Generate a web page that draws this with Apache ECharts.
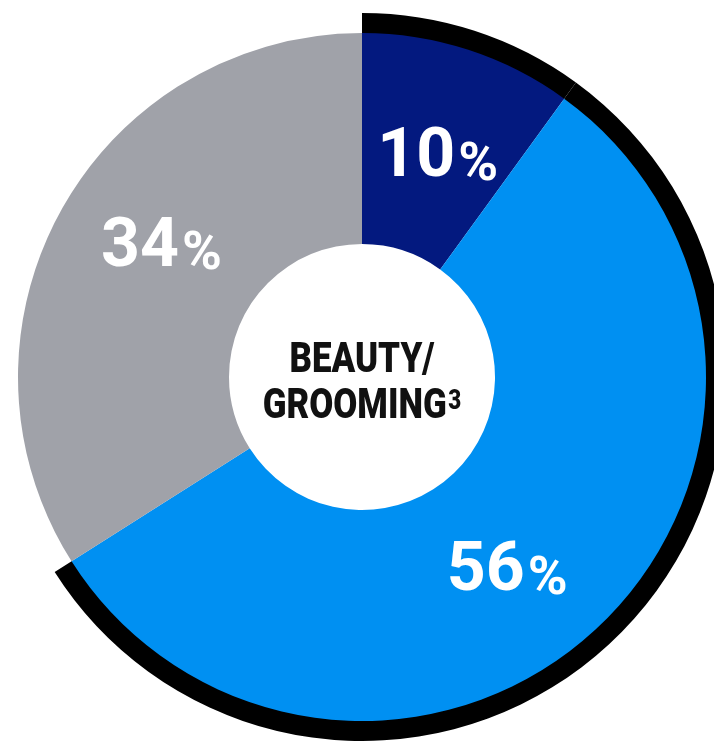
<!DOCTYPE html>
<html>
<head>
<meta charset="utf-8">
<title>Beauty/Grooming</title>
<script src="https://cdn.jsdelivr.net/npm/echarts@6/dist/echarts.min.js"></script>
<style>
    html, body { margin: 0; padding: 0; background: #fff; }
    #chart { width: 714px; height: 741px; }
</style>
</head>
<body>
<div id="chart"></div>
<script>
// slice data, clockwise from 12 o'clock
var sliceNames = ['Segment A', 'Segment B', 'Segment C'];
var sliceValues = [10, 56, 34];
var sliceColors = ['#03197f', '#0090f2', '#a0a2a9'];
// which slices get the black outer band
var bandColors = ['#000000', '#000000', 'rgba(0,0,0,0)'];
// small nudges so labels sit where the original has them
var labelNudge = [[1, 12], [-20, 20], [11, -12]];

var chart = echarts.init(document.getElementById('chart'));

var option = {
    animation: false,
    backgroundColor: '#ffffff',
    series: [
        {
            name: 'band',
            type: 'pie',
            silent: true,
            center: [362, 377],
            radius: [343, 364],
            startAngle: 90,
            label: { show: false },
            labelLine: { show: false },
            itemStyle: { borderWidth: 0 },
            data: sliceValues.map(function(v, i) {
                return { value: v, name: sliceNames[i], itemStyle: { color: bandColors[i] } };
            })
        },
        {
            name: 'share',
            type: 'pie',
            silent: true,
            center: [362, 377],
            radius: [133, 344],
            startAngle: 90,
            itemStyle: { borderWidth: 0 },
            labelLine: { show: false },
            label: {
                show: true,
                position: 'inside',
                formatter: function(p) {
                    return '{n|' + p.value + '}{p|%}';
                },
                rich: {
                    n: {
                        fontFamily: 'Roboto',
                        fontWeight: 'bold',
                        fontSize: 68,
                        color: '#fff',
                        lineHeight: 68,
                        verticalAlign: 'bottom'
                    },
                    p: {
                        fontFamily: 'Roboto',
                        fontWeight: 'bold',
                        fontSize: 54,
                        color: '#fff',
                        lineHeight: 54,
                        padding: [0, 0, 0, 3],
                        verticalAlign: 'bottom'
                    }
                }
            },
            labelLayout: function(params) {
                var n = labelNudge[params.dataIndex];
                return { dx: n[0], dy: n[1] };
            },
            data: sliceValues.map(function(v, i) {
                return { value: v, name: sliceNames[i], itemStyle: { color: sliceColors[i] } };
            })
        }
    ],
    graphic: [
        {
            type: 'text',
            x: 362,
            y: 384,
            scaleX: 0.83,
            silent: true,
            style: {
                text: '{a|BEAUTY/}\n{a|GROOMING}{s|3}',
                align: 'center',
                verticalAlign: 'middle',
                rich: {
                    a: {
                        fontFamily: 'Roboto',
                        fontWeight: 900,
                        fontSize: 42,
                        lineHeight: 46,
                        fill: '#111',
                        color: '#111'
                    },
                    s: {
                        fontFamily: 'Roboto',
                        fontWeight: 900,
                        fontSize: 27,
                        lineHeight: 46,
                        padding: [0, 0, 10, 2],
                        fill: '#111',
                        color: '#111'
                    }
                }
            }
        }
    ]
};

chart.setOption(option);
</script>
</body>
</html>
